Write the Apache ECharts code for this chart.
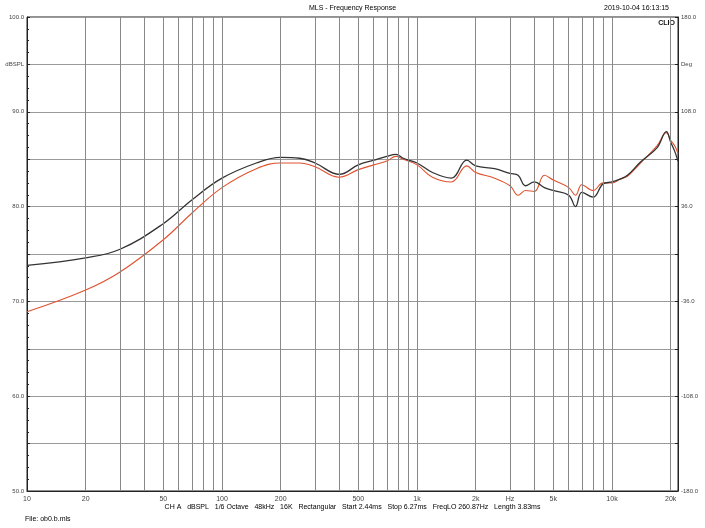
<!DOCTYPE html>
<html><head><meta charset="utf-8">
<script src="https://cdn.jsdelivr.net/npm/echarts@6/dist/echarts.min.js"></script>
<style>html,body{margin:0;padding:0;background:#fff}#c{width:705px;height:528px}</style>
</head><body><div id="c"></div>
<script>
// frequencies (Hz) and levels (dBSPL)
const freqs = [10, 20, 30, 50, 70, 100, 150, 200, 250, 300, 400, 500, 600, 700, 780, 850, 1000, 1200, 1500, 1800, 2000, 2500, 3000, 3300, 3600, 4000, 4500, 5000, 6000, 6500, 7000, 8000, 9000, 10000, 11000, 12000, 14000, 17000, 19000, 20000, 21000, 21800]
const blackDb = [73.8, 74.6, 75.5, 78.2, 80.7, 83.0, 84.6, 85.2, 85.1, 84.6, 83.4, 84.4, 84.9, 85.3, 85.5, 85.1, 84.6, 83.6, 83.0, 84.9, 84.3, 84.0, 83.5, 83.3, 82.2, 82.6, 82.0, 81.7, 81.2, 80.0, 81.5, 81.0, 82.4, 82.6, 82.9, 83.3, 84.7, 86.2, 87.9, 86.8, 85.8, 84.8]
const redDb = [68.9, 71.2, 73.1, 76.5, 79.3, 82.0, 84.0, 84.6, 84.6, 84.2, 83.1, 83.9, 84.4, 84.8, 85.3, 85.0, 84.4, 83.1, 82.6, 84.3, 83.6, 83.0, 82.2, 81.2, 81.7, 81.6, 83.3, 82.8, 82.0, 81.2, 82.3, 81.7, 82.5, 82.5, 82.9, 83.2, 84.6, 86.4, 87.8, 87.0, 86.4, 85.6]
const gridFreqs = [20, 30, 40, 50, 60, 70, 80, 90, 100, 200, 300, 400, 500, 600, 700, 800, 900, 1000, 2000, 3000, 4000, 5000, 6000, 7000, 8000, 9000, 10000, 20000]
const xLabelVals = [10, 20, 50, 100, 200, 500, 1000, 2000, 3000, 5000, 10000, 20000]
const xLabelText = {10: '10', 20: '20', 50: '50', 100: '100', 200: '200', 500: '500', 1000: '1k', 2000: '2k', 3000: 'Hz', 5000: '5k', 10000: '10k', 20000: '20k'}

const pairs = (ys) => freqs.map((f, i) => [f, ys[i]])
const small = { fontSize: 7, color: '#444', fontFamily: 'Liberation Sans' }

const chart = echarts.init(document.getElementById('c'))
chart.setOption({
  backgroundColor: '#fff',
  animation: false,
  grid: { left: 27, right: 27, top: 17, bottom: 37, show: true, borderColor: '#222', borderWidth: 1 },
  graphic: [
    { type: 'text', left: 'center', top: 5, style: Object.assign({ text: 'MLS - Frequency Response' }, small) },
    { type: 'text', right: 36, top: 5, style: Object.assign({ text: '2019-10-04 16:13:15' }, small) },
    { type: 'text', right: 30, top: 20, style: { text: 'CLIO', fontSize: 7, fontWeight: 'bold', fill: '#111' } },
    { type: 'text', left: 'center', top: 504, style: Object.assign({ text: 'CH A   dBSPL   1/6 Octave   48kHz   16K   Rectangular   Start 2.44ms   Stop 6.27ms   FreqLO 260.87Hz   Length 3.83ms' }, small) },
    { type: 'text', left: 25, top: 516, style: Object.assign({ text: 'File: ob0.b.mls' }, small) }
  ],
  xAxis: {
    type: 'log', logBase: 10, min: 10, max: 21800,
    axisLine: { onZero: false, lineStyle: { color: '#222' } },
    axisTick: { show: false },
    splitLine: { show: false },
    axisLabel: { customValues: xLabelVals, formatter: v => xLabelText[Math.round(v)] || '', fontSize: 7, color: '#444', margin: 5 }
  },
  yAxis: [{
    type: 'value', min: 50, max: 100, interval: 5,
    axisLine: { show: true, lineStyle: { color: '#222' } },
    axisTick: { show: true, inside: true, length: 3, lineStyle: { color: '#222' } },
    minorTick: { show: true, splitNumber: 4, length: 2, lineStyle: { color: '#222' } },
    splitLine: { lineStyle: { color: '#999', width: 1 } },
    axisLabel: { fontSize: 6, color: '#444', margin: 3,
      formatter: v => v === 95 ? 'dBSPL' : (v % 10 === 0 ? v.toFixed(1) : '') }
  }, {
    type: 'value', min: -180, max: 180, interval: 36,
    axisLine: { show: true, onZero: false, lineStyle: { color: '#222' } },
    axisTick: { show: true, inside: true, length: 3, lineStyle: { color: '#222' } },
    splitLine: { show: false },
    axisLabel: { fontSize: 6, color: '#444', margin: 3,
      formatter: v => v === 144 ? 'Deg' : ((v + 180) % 72 === 0 ? v.toFixed(1) : '') }
  }],
  series: [{
    type: 'line', data: pairs(blackDb), smooth: 0.4, symbol: 'none',
    lineStyle: { color: '#333', width: 1.3 },
    markLine: {
      silent: true, symbol: 'none', label: { show: false },
      lineStyle: { color: '#888', width: 1, type: 'solid' },
      data: gridFreqs.map(f => ({ xAxis: f }))
    },
    z: 3
  }, {
    type: 'line', data: pairs(redDb), smooth: 0.4, symbol: 'none',
    lineStyle: { color: '#e0522f', width: 1.1 }, z: 2
  }]
})
</script></body></html>
